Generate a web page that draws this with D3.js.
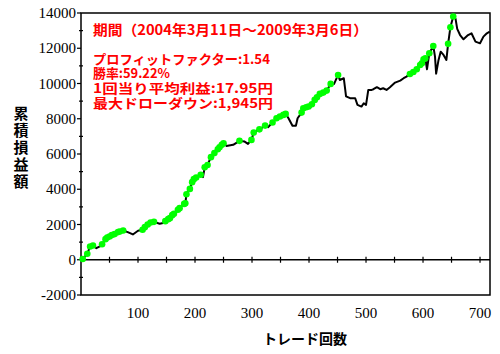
<!DOCTYPE html>
<html>
<head>
<meta charset="utf-8">
<script src="https://cdn.jsdelivr.net/npm/d3@7"></script>
<style>
  body { margin: 0; background: #fff; }
  .tick-label { font-family: "Liberation Serif", "DejaVu Serif", serif; font-size: 15px; fill: #000; }
  .jp { font-family: "Noto Sans CJK JP", sans-serif; font-weight: 700; }
</style>
</head>
<body>
<script>
// trade number and cumulative profit (yen)
var trades = [0, 3, 11, 16, 21, 27, 33, 37, 43, 46, 50, 54, 59, 65, 68, 74, 82, 91, 100, 108,
  112, 117, 122, 128, 138, 144, 148, 153, 156, 160, 163, 170, 173, 181, 183, 185, 191, 195, 198, 202,
  210, 214, 217, 222, 228, 234, 240, 243, 247, 250, 255, 267, 278, 287, 293, 299, 303, 313, 323, 328,
  336, 343, 349, 355, 359, 364, 371, 377, 380, 387, 390, 395, 399, 402, 405, 410, 414, 419, 425, 431,
  438, 444, 451, 454, 461, 465, 472, 481, 485, 492, 496, 500, 504, 510, 513, 519, 525, 530, 536, 542,
  551, 560, 566, 571, 577, 583, 589, 595, 598, 601, 604, 607, 611, 618, 621, 623, 627, 631, 636, 641,
  644, 648, 653, 657, 660, 665, 671, 679, 685, 692, 700, 706, 712, 717];
var profit = [0, 40, 340, 755, 810, 660, 755, 880, 1170, 1265, 1320, 1398, 1455, 1570, 1606, 1660, 1570, 1435, 1645, 1700,
  1851, 2000, 2116, 2150, 2040, 2080, 2190, 2304, 2360, 2531, 2607, 2834, 2928, 3170, 3200, 3720, 4020, 4402, 4572, 4660,
  4820, 4690, 5250, 5380, 5820, 6050, 6270, 6386, 6518, 6611, 6460, 6520, 6745, 6705, 6575, 6800, 7215, 7400, 7610, 7520,
  7784, 8030, 8124, 8219, 8275, 8030, 7600, 7600, 8030, 8350, 8597, 8653, 8691, 8600, 8823, 9069, 9220, 9409, 9484, 9598,
  9976, 9975, 10485, 10200, 10300, 9270, 9165, 9165, 8785, 8690, 8880, 8785, 9635, 9635, 9675, 9790, 9675, 9730, 9635, 9790,
  10050, 10165, 10300, 10390, 10542, 10655, 10809, 11050, 11148, 11375, 11430, 10810, 11715, 12130, 11525, 10560, 11300, 11805, 11620, 11335,
  12250, 13190, 13800, 13680, 13100, 12750, 12510, 12750, 12850, 12375, 12280, 12660, 12850, 12940];

var yMajor = [-2000, 0, 2000, 4000, 6000, 8000, 10000, 12000, 14000];
var yMinor = [-1000, 1000, 3000, 5000, 7000, 9000, 11000, 13000];
var xLabels = [100, 200, 300, 400, 500, 600, 700];
var xTicks = [50, 100, 150, 200, 250, 300, 350, 400, 450, 500, 550, 600, 650, 700];

var infoLines = ["期間（2004年3月11日～2009年3月6日）", "プロフィットファクター:1.54", "勝率:59.22%",
  "1回当り平均利益:17.95円", "最大ドローダウン:1,945円"];
var yTitle = ["累", "積", "損", "益", "額"];

var W = 500, H = 354;
var margin = {left: 81, right: 490, top: 13, bottom: 295};

var svg = d3.select("body").append("svg")
  .attr("width", W).attr("height", H);

var x = d3.scaleLinear().domain([0, 717.5]).range([margin.left, margin.right]);
var y = d3.scaleLinear().domain([-2000, 14000]).range([margin.bottom, margin.top]);

// frame
svg.append("rect")
  .attr("x", margin.left).attr("y", margin.top)
  .attr("width", margin.right - margin.left).attr("height", margin.bottom - margin.top)
  .attr("fill", "none").attr("stroke", "#000").attr("stroke-width", 1.5);

// y ticks
svg.selectAll(".ymaj").data(yMajor).enter().append("line")
  .attr("x1", margin.left - 4).attr("x2", margin.left)
  .attr("y1", function(d) { return y(d); }).attr("y2", function(d) { return y(d); })
  .attr("stroke", "#000").attr("stroke-width", 1.2);
svg.selectAll(".ymin").data(yMinor).enter().append("line")
  .attr("x1", margin.left - 2).attr("x2", margin.left + 2)
  .attr("y1", function(d) { return y(d); }).attr("y2", function(d) { return y(d); })
  .attr("stroke", "#000").attr("stroke-width", 1.2);
svg.selectAll(".ylab").data(yMajor).enter().append("text")
  .attr("class", "tick-label")
  .attr("x", margin.left - 5)
  .attr("y", function(d) { return y(d) + 5; })
  .attr("text-anchor", "end")
  .text(function(d) { return d; });

// zero line with ticks
svg.append("line")
  .attr("x1", margin.left).attr("x2", margin.right)
  .attr("y1", y(0)).attr("y2", y(0))
  .attr("stroke", "#000").attr("stroke-width", 1.5);
svg.selectAll(".xt").data(xTicks).enter().append("line")
  .attr("x1", function(d) { return x(d); }).attr("x2", function(d) { return x(d); })
  .attr("y1", y(0) - 3).attr("y2", y(0) + 3)
  .attr("stroke", "#000").attr("stroke-width", 1.2);
svg.selectAll(".xlab").data(xLabels).enter().append("text")
  .attr("class", "tick-label")
  .attr("x", function(d) { return x(d); })
  .attr("y", 318)
  .attr("text-anchor", "middle")
  .text(function(d) { return d; });

// equity line
var pts = trades.map(function(t, i) { return [t, profit[i]]; });
svg.append("path")
  .datum(pts)
  .attr("fill", "none")
  .attr("stroke", "#000")
  .attr("stroke-width", 2)
  .attr("stroke-linejoin", "round")
  .attr("d", d3.line().x(function(d) { return x(d[0]); }).y(function(d) { return y(d[1]); }));

// new highs in green
var highs = [], best = 0;
pts.forEach(function(p, i) {
  if (i > 0 && p[1] > best) { highs.push(p); }
  best = Math.max(best, p[1]);
});
svg.selectAll(".hi").data(highs).enter().append("circle")
  .attr("cx", function(d) { return x(d[0]); })
  .attr("cy", function(d) { return y(d[1]); })
  .attr("r", 3.3)
  .attr("fill", "#00ff00");

// info text
var infoY = [35, 64, 78, 93, 108];
var infoW = [275, 177, 77, 180, 180];
svg.selectAll(".info").data(infoLines).enter().append("text")
  .attr("class", "jp")
  .attr("x", 93)
  .attr("y", function(d, i) { return infoY[i]; })
  .attr("textLength", function(d, i) { return infoW[i]; })
  .attr("lengthAdjust", "spacingAndGlyphs")
  .attr("font-size", function(d, i) { return i === 0 ? 14 : 13; })
  .attr("fill", "#ff0000")
  .text(function(d) { return d; });

// axis titles
svg.selectAll(".yt").data(yTitle).enter().append("text")
  .attr("class", "jp")
  .attr("x", 21)
  .attr("y", function(d, i) { return 119 + i * 17; })
  .attr("text-anchor", "middle")
  .attr("font-size", 15)
  .text(function(d) { return d; });

svg.append("text")
  .attr("class", "jp")
  .attr("x", 305)
  .attr("y", 344)
  .attr("text-anchor", "middle")
  .attr("font-size", 14)
  .text("トレード回数");
</script>
</body>
</html>
